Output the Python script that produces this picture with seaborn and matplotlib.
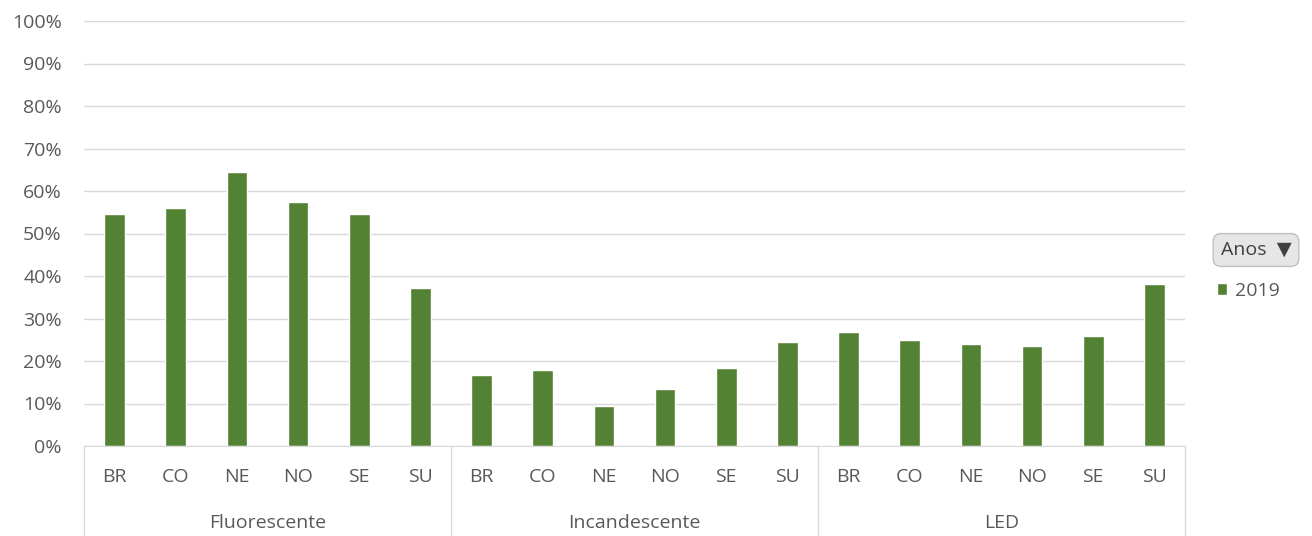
import numpy as np
import pandas as pd
import matplotlib
matplotlib.use("Agg")
import matplotlib.pyplot as plt
import seaborn as sns

# dados
tipos = ["Fluorescente", "Incandescente", "LED"]
regioes = ["BR", "CO", "NE", "NO", "SE", "SU"]
fluorescente = [0.545, 0.559, 0.644, 0.573, 0.545, 0.372]
incandescente = [0.166, 0.180, 0.095, 0.133, 0.184, 0.245]
led = [0.269, 0.250, 0.241, 0.236, 0.259, 0.381]
ano = "2019"

valores = [fluorescente, incandescente, led]
linhas = []
for t, vals in zip(tipos, valores):
    for r, v in zip(regioes, vals):
        linhas.append({"pos": f"{t}-{r}", "tipo": t, "regiao": r, "valor": v, "Ano": ano})
df = pd.DataFrame(linhas)

sns.set_style("white")
plt.rcParams['font.family'] = ['Open Sans', 'DejaVu Sans']

verde = "#548235"
cinza_txt = "#595959"
cinza_lin = "#d9d9d9"
fs = 14

fig = plt.figure(figsize=(13.12, 5.36), dpi=100)
ax = fig.add_axes([84 / 1312, 90 / 536, (1185 - 84) / 1312, (446 - 21) / 536])

sns.barplot(data=df, x="pos", y="valor", hue="Ano", palette=[verde], saturation=1,
            order=list(df["pos"]), width=0.34, ax=ax, legend=True)

ax.set_ylim(0, 1)
ax.set_xlim(-0.5, len(df) - 0.5)
ax.set_yticks(np.arange(0, 1.01, 0.1))
ax.set_yticklabels([f"{int(round(v * 100))}%" for v in np.arange(0, 1.01, 0.1)],
                   color=cinza_txt, fontsize=fs)
ax.yaxis.grid(True, color=cinza_lin, linewidth=1)
ax.set_axisbelow(True)
ax.tick_params(axis="y", length=0, pad=16)
ax.tick_params(axis="x", length=0, pad=16)
ax.set_xticks(range(len(df)))
ax.set_xticklabels(list(df["regiao"]), color=cinza_txt, fontsize=fs)
ax.set_xlabel("")
ax.set_ylabel("")
for s in ["top", "right", "left"]:
    ax.spines[s].set_visible(False)
ax.spines["bottom"].set_color(cinza_lin)

# separadores das categorias e rótulos dos grupos
trans = ax.get_xaxis_transform()
n = len(regioes)
for i in range(len(tipos) + 1):
    xs = i * n - 0.5
    ax.plot([xs, xs], [0, -0.212], color=cinza_lin, lw=1, transform=trans, clip_on=False)
for i, t in enumerate(tipos):
    ax.text(i * n + (n - 1) / 2, -0.18, t, transform=trans, ha="center", va="center",
            color=cinza_txt, fontsize=fs)

# legenda
leg = ax.legend(loc="center left", bbox_to_anchor=(1207 / 1312, 1 - 291 / 536),
                bbox_transform=fig.transFigure, frameon=False, fontsize=fs,
                handlelength=0.55, handleheight=0.55, handletextpad=0.4, borderpad=0)
for txt in leg.get_texts():
    txt.set_color(cinza_txt)
fig.text(1256 / 1312, 1 - 250 / 536, "Anos  \u25bc", ha="center", va="center",
         fontsize=14, color="#404040",
         bbox=dict(boxstyle="round,pad=0.38,rounding_size=0.4", facecolor="#e6e6e6",
                   edgecolor="#bfbfbf", linewidth=1))

fig.savefig("out.png", dpi=100)
